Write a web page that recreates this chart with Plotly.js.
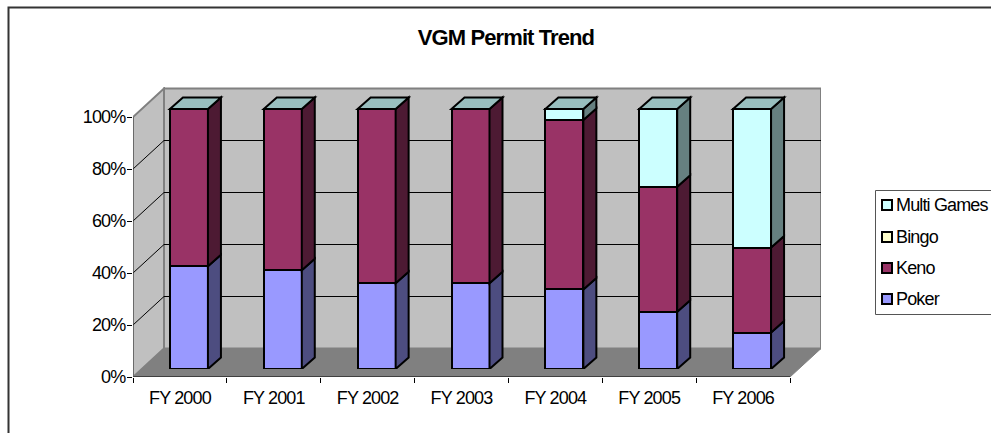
<!DOCTYPE html>
<html><head><meta charset="utf-8">
<script src="https://cdn.plot.ly/plotly-3.0.1.min.js"></script>
<style>html,body{margin:0;padding:0;background:#fff;overflow:hidden}#c{width:991px;height:433px}
#c .xtick text,#c .ytick text,#c .annotation-text{letter-spacing:-0.85px}
#c .gtitle{letter-spacing:-0.9px}
</style>
</head><body><div id="c"></div>
<script>
const categories = ['FY 2000','FY 2001','FY 2002','FY 2003','FY 2004','FY 2005','FY 2006'];
const poker = [39.5,38,33,33,30.6,22,14];
const keno  = [60.5,62,67,67,65.2,48.1,32.7];
const bingo = [0,0,0,0,0,0,0];
const multi = [0,0,0,0,4.2,29.9,53.3];
const yTicks = [0,20,40,60,80,100];
const seriesNames = ['Poker','Keno','Bingo','Multi Games'];
const seriesValues = [poker,keno,bingo,multi];
const faceColors = ['#9999FF','#993366','#FFFFCC','#CCFFFF'];
const sideColors = ['#4D4D80','#4D1A33','#808066','#668080'];
const topColor = '#99BFBF';

const W=697,H=298,L=133,T=79,B=56,R=991-L-W;
const unitX=93.86, unitY=2.6;          // px per category / per percent
const wallX=31/unitX, wallY=28.5/unitY;  // depth of the walls in axis units
const depthX=13/unitX, depthY=11.5/unitY; // depth of each column
const barW=38/unitX;
const xMin=-0.5, xMax=categories.length-0.5+wallX, xFront=categories.length-0.5;
const yTop=100+30/unitY, wallTop=100+wallY;
const px=p=>(p-L)/W, py=p=>(433-B-p)/H;

const poly=pts=>'M'+pts.map(p=>p[0]+','+p[1]).join('L')+'Z';
const shapes=[];
const wall=(pts,fill,lc,lw)=>shapes.push({type:'path',xref:'x',yref:'y',layer:'below',path:poly(pts),fillcolor:fill,line:{color:lc,width:lw}});
// floor, side wall, back wall
wall([[xMin,0],[xMin+wallX,wallY],[xMax,wallY],[xFront,0]],'#808080','#808080',1);
wall([[xMin,0],[xMin+wallX,wallY],[xMin+wallX,wallTop],[xMin,100]],'#C0C0C0','#808080',2);
wall([[xMin+wallX,wallY],[xMax,wallY],[xMax,wallTop],[xMin+wallX,wallTop]],'#C0C0C0','#808080',2);
// grid lines
yTicks.filter(v=>v>0&&v<100).forEach(v=>{
  shapes.push({type:'path',xref:'x',yref:'y',layer:'below',
    path:`M${xMin},${v}L${xMin+wallX},${v+wallY}L${xMax},${v+wallY}`,line:{color:'#000',width:1}});
});
// axis lines
shapes.push({type:'line',xref:'x',yref:'y',layer:'below',x0:xMin,x1:xFront,y0:0,y1:0,line:{color:'#000',width:1}});
shapes.push({type:'line',xref:'x',yref:'y',layer:'below',x0:xMin,x1:xMin,y0:0,y1:100,line:{color:'#555',width:1}});
// column side and top faces
categories.forEach((c,i)=>{
  let sum=0;
  const xr=i+barW/2;
  seriesValues.forEach((vals,s)=>{
    const v=vals[i];
    if(v<=0) return;
    shapes.push({type:'path',xref:'x2',yref:'y2',layer:'above',
      path:poly([[xr,sum],[xr+depthX,sum+depthY],[xr+depthX,sum+v+depthY],[xr,sum+v]]),
      fillcolor:sideColors[s],line:{color:'#000',width:2}});
    sum+=v;
  });
  shapes.push({type:'path',xref:'x2',yref:'y2',layer:'above',
    path:poly([[xr-barW,sum],[xr,sum],[xr+depthX,sum+depthY],[xr-barW+depthX,sum+depthY]]),
    fillcolor:topColor,line:{color:'#000',width:2}});
});
// chart frame
shapes.push({type:'path',xref:'paper',yref:'paper',layer:'below',
  path:`M${px(8.5)},${py(450)}L${px(8.5)},${py(7.5)}L${px(1010)},${py(7.5)}`,line:{color:'#333',width:2}});
// legend
const FONT='"Liberation Sans",Arial,sans-serif';
const annotations=[];
shapes.push({type:'path',xref:'paper',yref:'paper',layer:'below',
  path:`M${px(1010)},${py(190.5)}L${px(875.5)},${py(190.5)}L${px(875.5)},${py(314.5)}L${px(1010)},${py(314.5)}`,
  line:{color:'#555',width:1}});
const legendRows=[3,2,1,0], legendY=[205,237,268,299];
legendRows.forEach((s,k)=>{
  const y=legendY[k];
  shapes.push({type:'rect',xref:'paper',yref:'paper',layer:'above',x0:px(882),x1:px(892),y0:py(y-5),y1:py(y+5),
    fillcolor:faceColors[s],line:{color:'#000',width:2}});
  annotations.push({xref:'paper',yref:'paper',x:px(895),y:py(y),xanchor:'left',yanchor:'middle',align:'left',showarrow:false,
    text:seriesNames[s],font:{family:FONT,size:18,color:'#000'},borderpad:0});
});

const traces=[{x:categories,y:categories.map(()=>0),type:'scatter',mode:'none',xaxis:'x',yaxis:'y',showlegend:false,hoverinfo:'skip'}];
seriesValues.forEach((vals,s)=>traces.push({
  type:'bar',name:seriesNames[s],x:categories,y:vals,width:barW,xaxis:'x2',yaxis:'y2',
  marker:{color:faceColors[s],line:{color:'#000',width:2}},showlegend:false
}));

const layout={
  width:991,height:433,autosize:false,barmode:'stack',showlegend:false,
  margin:{l:L,r:R,t:T,b:B,pad:0},
  paper_bgcolor:'#fff',plot_bgcolor:'rgba(0,0,0,0)',
  font:{family:FONT,size:18,color:'#000'},
  title:{text:'VGM Permit Trend',font:{family:FONT,size:22,weight:700,color:'#000'},
    xref:'container',yref:'container',x:506/991,y:1-37/433,xanchor:'center',yanchor:'middle'},
  xaxis:{type:'category',domain:[0,688/W],range:[xMin,xMax],tickson:'boundaries',ticks:'outside',ticklen:5,tickwidth:1,tickcolor:'#000',
    showgrid:false,zeroline:false,showline:false,automargin:false,categoryorder:'array',categoryarray:categories,
    ticklabelstandoff:8,tickfont:{family:FONT,size:18}},
  yaxis:{domain:[0,290/H],range:[0,yTop],tickmode:'array',tickvals:yTicks,ticktext:yTicks.map(v=>v+'%'),ticks:'outside',ticklen:5,tickwidth:1,tickcolor:'#000',
    showgrid:false,zeroline:false,showline:false,automargin:false,ticklabelstandoff:-2,tickfont:{family:FONT,size:18}},
  xaxis2:{type:'category',domain:[9/W,(688+9)/W],range:[xMin,xMax],visible:false,anchor:'y2',categoryorder:'array',categoryarray:categories,fixedrange:true},
  yaxis2:{domain:[8/H,(290+8)/H],range:[0,yTop],visible:false,anchor:'x2',fixedrange:true},
  shapes,annotations
};
Plotly.newPlot('c',traces,layout,{displayModeBar:false,staticPlot:true});
</script></body></html>
